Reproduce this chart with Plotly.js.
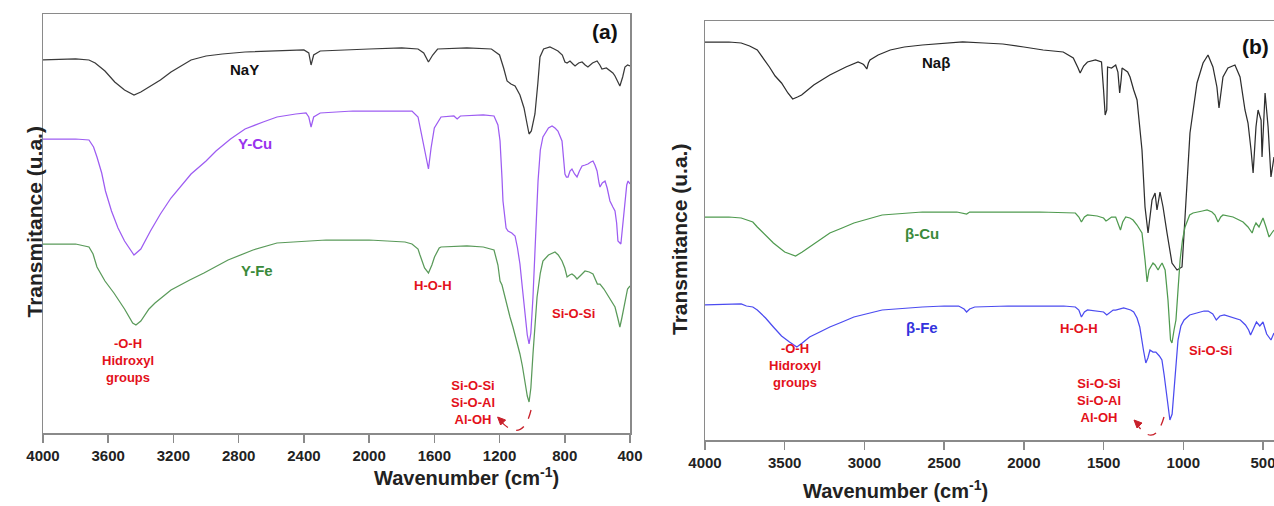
<!DOCTYPE html>
<html>
<head>
<meta charset="utf-8">
<script src="https://cdn.plot.ly/plotly-3.0.1.min.js"></script>
<style>html,body{margin:0;padding:0;background:#fff;}#chart{width:1274px;height:506px;}</style>
</head>
<body>
<div id="chart"></div>
<script>
// ---------- Panel (a) : zeolite Y samples ----------
const nayWn = [4000,3800,3718,3680,3620,3560,3500,3442,3400,3341,3280,3215,3150,3092,3000,2900,2761,2565,2400,2370,2356,2340,2300,2000,1800,1700,1665,1636,1610,1580,1400,1250,1200,1175,1154,1130,1105,1075,1050,1030,1019,1005,983,965,952,930,891,865,842,815,799,786,768,750,737,715,694,675,658,630,602,585,572,545,523,505,492,475,462,445,431,415,400];
const nayT  = [373,374,373,370,362,351,343,338,341,347,353,361,367,373,377,379,381,382,383,380,368,378,382,384,385,384,380,371,378,384,385,384,378,365,352,349,347,338,325,308,299,302,319,350,376,384,386,384,382,378,371,370,372,369,367,370,371,368,366,370,372,368,364,365,362,360,357,352,347,356,366,368,367];

const ycuWn = [4000,3800,3718,3690,3669,3640,3617,3580,3540,3500,3442,3400,3341,3280,3215,3150,3092,3000,2939,2850,2761,2650,2565,2450,2387,2370,2356,2340,2300,2100,1850,1737,1700,1688,1665,1636,1620,1600,1559,1480,1460,1440,1300,1234,1210,1197,1185,1179,1160,1148,1125,1105,1090,1075,1060,1044,1030,1019,1008,995,980,964,950,934,900,878,860,842,817,808,799,790,780,768,756,740,725,710,694,675,658,640,627,615,602,590,584,570,553,540,523,505,492,482,474,456,445,431,420,412,400];
const ycuT  = [294,294,293,286,276,260,242,222,205,192,178,184,202,219,235,248,259,272,282,294,304,311,316,319,320,316,306,316,320,322,322,322,316,306,285,264,285,305,316,317,314,317,318,317,308,292,255,232,205,202,200,197,185,169,145,119,98,89,100,136,195,252,283,296,305,307,305,302,292,275,259,256,256,262,264,259,256,262,267,268,269,271,272,268,262,250,246,250,252,245,232,226,222,210,192,189,205,232,248,252,249];

const yfeWn = [4000,3800,3718,3693,3669,3620,3565,3500,3450,3430,3400,3350,3313,3215,3100,3013,2865,2712,2565,2400,2264,2000,1884,1780,1737,1700,1688,1660,1636,1615,1599,1570,1559,1400,1300,1234,1210,1197,1185,1170,1154,1136,1118,1095,1075,1060,1044,1030,1019,1008,995,982,970,950,934,900,860,840,817,800,786,770,756,740,725,700,676,650,627,600,584,560,541,515,492,475,462,450,431,415,400];
const yfeT  = [189,189,186,179,166,152,140,124,110,108,112,124,130,143,153,160,173,183,190,192,193,193,192,191,189,184,178,165,160,168,176,185,186,187,186,183,168,152,148,138,126,116,106,92,79,67,49,37,31,45,79,110,136,160,172,178,181,178,172,165,156,158,159,157,154,158,162,161,159,149,149,144,139,133,126,115,106,115,132,144,147];

// ---------- Panel (b) : zeolite beta samples ----------
const nabWn = [4000,3850,3773,3720,3672,3630,3596,3560,3520,3480,3450,3420,3394,3318,3217,3116,3040,3010,3003,2985,2975,2965,2914,2838,2750,2637,2500,2384,2250,2132,2000,1879,1753,1690,1660,1647,1625,1601,1551,1513,1500,1490,1480,1475,1450,1424,1410,1399,1390,1384,1349,1334,1311,1290,1259,1240,1221,1196,1177,1165,1146,1127,1102,1071,1039,1008,989,958,914,876,845,814,789,776,751,720,676,644,613,594,575,562,544,531,512,506,487,468,450,431];
const nabT  = [398,398,397,394,390,381,373,364,357,347,341,343,345,355,365,373,378,376,375,371,377,380,385,390,393,395,397,398,397,396,393,390,388,382,372,367,374,378,380,378,350,325,330,373,372,375,368,347,360,372,368,363,350,340,290,233,207,240,247,230,248,233,207,177,170,173,223,307,357,377,385,373,353,332,363,372,375,363,330,317,290,267,313,330,320,283,347,313,263,283];

const bcuWn = [4000,3850,3773,3700,3672,3620,3571,3500,3432,3390,3344,3280,3217,3140,3066,2889,2750,2637,2420,2380,2359,2340,2132,1900,1677,1655,1639,1620,1601,1540,1500,1485,1475,1450,1424,1405,1394,1380,1361,1335,1315,1290,1259,1240,1227,1215,1202,1190,1177,1158,1145,1133,1114,1096,1080,1071,1058,1046,1033,1020,1005,989,960,939,880,851,820,801,782,765,751,720,688,650,625,594,568,556,544,525,500,481,462,445,431];
const bcuT  = [223,223,222,218,213,205,197,188,184,188,193,200,207,212,217,225,227,228,228,227,226,228,228,228,227,223,218,223,225,224,222,219,220,223,223,215,210,218,223,222,220,215,207,180,158,170,173,177,175,170,174,177,170,140,100,97,110,120,150,180,200,213,225,227,229,230,228,225,218,223,225,224,223,220,218,213,207,213,217,213,222,213,203,207,210];

const bfeWn = [4000,3850,3773,3740,3700,3672,3620,3571,3520,3470,3424,3390,3344,3280,3217,3140,3066,2889,2750,2637,2500,2409,2375,2359,2340,2308,2100,1879,1750,1677,1655,1639,1620,1601,1540,1500,1480,1462,1440,1424,1374,1330,1311,1290,1273,1250,1235,1222,1209,1190,1172,1150,1134,1120,1109,1095,1084,1070,1058,1045,1033,1015,995,960,919,870,844,815,793,770,743,700,660,642,610,590,578,562,541,520,500,477,460,450,431];
const bfeT  = [135,136,136,134,133,130,122,113,104,98,93,97,103,108,113,118,123,130,132,133,134,134,131,128,131,133,134,134,134,133,130,123,128,130,129,128,125,127,130,130,132,130,128,122,113,90,77,82,90,88,88,84,80,65,50,32,20,26,50,80,100,114,120,125,127,129,129,126,120,124,125,123,121,120,115,110,105,110,118,114,118,106,102,100,107];

// tick labels
const ticksA = [4000,3600,3200,2800,2400,2000,1600,1200,800,400];
const ticksB = [4000,3500,3000,2500,2000,1500,1000,500];

const W = 1274, H = 506;
const FONT = 'Liberation Sans, Arial, Helvetica, sans-serif';
const NARROW = 'Liberation Sans Narrow, Liberation Sans, Arial, sans-serif';
const RED = '#e3111b';
const ARROW = '#c8202a';

function line(x, y, color, xa, ya, name) {
  return {type:'scatter', mode:'lines', x:x, y:y, name:name, xaxis:xa, yaxis:ya,
          line:{color:color, width:1.25}, hoverinfo:'skip'};
}

const traces = [
  line(nayWn, nayT, '#3a3a3a', 'x', 'y', 'NaY'),
  line(ycuWn, ycuT, '#9d5cf2', 'x', 'y', 'Y-Cu'),
  line(yfeWn, yfeT, '#5a9a5a', 'x', 'y', 'Y-Fe'),
  line(nabWn, nabT, '#2e2e2e', 'x2', 'y2', 'Naβ'),
  line(bcuWn, bcuT, '#4f9a4f', 'x2', 'y2', 'β-Cu'),
  line(bfeWn, bfeT, '#4b4bf0', 'x2', 'y2', 'β-Fe')
];

const axisLine = {showline:true, linecolor:'#8a8a8a', linewidth:1.5, showgrid:false, zeroline:false};
const tickFont = {family:FONT, size:15, color:'#222', weight:'bold'};

function ann(x, y, text, color, size, xref, yref, extra, fam) {
  return Object.assign({x:x, y:y, text:text, xref:xref, yref:yref, showarrow:false,
    font:{family:fam || FONT, size:size, color:color, weight:'bold'}}, extra || {});
}

const annotations = [
  // panel a
  ann(553, 401, '(a)', '#111', 21, 'x', 'y'),
  ann(2764, 363, 'NaY', '#111', 15, 'x', 'y'),
  ann(2700, 289, 'Y-Cu', '#9933ee', 15, 'x', 'y'),
  ann(2688, 163, 'Y-Fe', '#3a8a3a', 15, 'x', 'y'),
  ann(3479, 73, '-O-H<br>Hidroxyl<br>groups', RED, 13, 'x', 'y', null, NARROW),
  ann(1608, 148, 'H-O-H', RED, 13, 'x', 'y', null, NARROW),
  ann(744, 120, 'Si-O-Si', RED, 13, 'x', 'y', null, NARROW),
  ann(1360, 31, 'Si-O-Si<br>Si-O-Al<br>Al-OH', RED, 13, 'x', 'y', null, NARROW),
  // panel b
  ann(550, 393, '(b)', '#111', 21, 'x2', 'y2'),
  ann(2548, 377, 'Naβ', '#111', 15, 'x2', 'y2'),
  ann(2639, 207, 'β-Cu', '#3a8a3a', 15, 'x2', 'y2'),
  ann(2639, 113, 'β-Fe', '#3333dd', 15, 'x2', 'y2'),
  ann(3435, 75, '-O-H<br>Hidroxyl<br>groups', RED, 13, 'x2', 'y2', null, NARROW),
  ann(1654, 112, 'H-O-H', RED, 13, 'x2', 'y2', null, NARROW),
  ann(832, 90, 'Si-O-Si', RED, 13, 'x2', 'y2', null, NARROW),
  ann(1529, 40, 'Si-O-Si<br>Si-O-Al<br>Al-OH', RED, 13, 'x2', 'y2', null, NARROW),
  // axis titles
  ann(372/W, 1-491/H, 'Wavenumber (cm<sup>-1</sup>)', '#222', 20, 'paper', 'paper'),
  ann(990/W, 1-504/H, 'Wavenumber (cm<sup>-1</sup>)', '#222', 20, 'paper', 'paper', {yanchor:'bottom'}),
  ann(20/W, 1-222/H, 'Transmitance (u.a.)', '#222', 21, 'paper', 'paper', {textangle:-90}),
  ann(680/W, 1-240/H, 'Transmitance (u.a.)', '#222', 21, 'paper', 'paper', {textangle:-90})
];

function head(x, y, xr, yr) {
  return {type:'path', xref:xr, yref:yr, xsizemode:'pixel', ysizemode:'pixel',
          xanchor:x, yanchor:y, path:'M 0 0 L 8 -3 L 3 -8 Z',
          line:{color:ARROW, width:1}, fillcolor:ARROW};
}

const shapes = [
  {type:'path', xref:'x', yref:'y', path:'M 1007 23 Q 1060 -12 1200 13',
   line:{color:ARROW, width:1.3, dash:'dash'}},
  head(1212, 16, 'x', 'y'),
  {type:'path', xref:'x2', yref:'y2', path:'M 1121 23 Q 1180 -10 1297 17',
   line:{color:ARROW, width:1.3, dash:'dash'}},
  head(1309, 20, 'x2', 'y2')
];

const layout = {
  width:W, height:H, margin:{l:0, r:0, t:0, b:0},
  paper_bgcolor:'#fff', plot_bgcolor:'#fff', showlegend:false,
  font:{family:FONT},
  xaxis:Object.assign({}, axisLine, {domain:[43/W, 630/W], range:[4000,400], anchor:'y', mirror:true,
    tickvals:ticksA, ticktext:ticksA.map(String), ticks:'outside', ticklen:8, tickwidth:1.5, tickcolor:'#8a8a8a',
    tickfont:tickFont, ticklabeloverflow:'allow'}),
  yaxis:Object.assign({}, axisLine, {domain:[(H-433)/H, (H-14)/H], range:[0,419], anchor:'x', mirror:true,
    showticklabels:false, ticks:''}),
  xaxis2:Object.assign({}, axisLine, {domain:[705/W, 1], range:[4000,431], anchor:'y2', mirror:true,
    tickvals:ticksB, ticktext:ticksB.map(String), ticks:'outside', ticklen:8, tickwidth:1.5, tickcolor:'#8a8a8a',
    tickfont:tickFont, ticklabeloverflow:'allow'}),
  yaxis2:Object.assign({}, axisLine, {domain:[(H-440)/H, (H-21)/H], range:[0,419], anchor:'x2', mirror:false,
    showticklabels:false, ticks:''}),
  annotations:annotations,
  shapes:shapes
};

Plotly.newPlot('chart', traces, layout, {staticPlot:true, displayModeBar:false});
</script>
</body>
</html>
